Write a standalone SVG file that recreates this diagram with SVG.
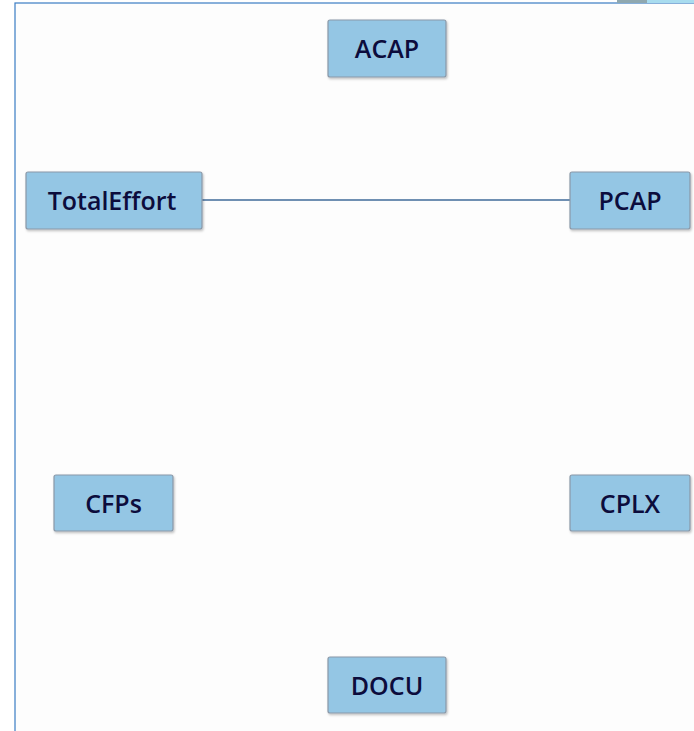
<svg xmlns="http://www.w3.org/2000/svg" width="694" height="731" viewBox="0 0 694 731">
  <style>
    .node rect { fill: #94c6e4; stroke: #8a98a8; stroke-width: 1.2; }
    .node text { font-family: "Open Sans", "DejaVu Sans", sans-serif; font-weight: 600; font-size: 25px; fill: #0c0c3c; text-anchor: middle; }
    .edge { stroke: #3f6a98; stroke-width: 1.4; fill: none; }
  </style>
  <defs>
    <filter id="shadow" x="-10%" y="-10%" width="130%" height="140%">
      <feDropShadow dx="1" dy="1.5" stdDeviation="0.8" flood-color="#000" flood-opacity="0.25"/>
    </filter>
  </defs>
  <!-- canvas -->
  <rect x="0" y="0" width="694" height="731" fill="#ffffff"/>
  <rect x="15" y="3" width="690" height="740" fill="#fdfdfd" stroke="#3a7cc4" stroke-width="1.2"/>
  <!-- toolbar fragments at top right -->
  <rect x="617" y="0" width="30" height="3" fill="#8fa8b0"/>
  <rect x="647" y="0" width="47" height="3" fill="#a8dcef"/>

  <g id="connectors">
    <line class="edge" x1="202" y1="200" x2="570" y2="200"/>
  </g>

  <g id="ACAP" class="node">
    <rect x="328" y="20" width="118" height="57" rx="2" filter="url(#shadow)"/>
    <text x="387" y="58">ACAP</text>
  </g>
  <g id="TotalEffort" class="node">
    <rect x="26" y="172" width="176" height="57" rx="2" filter="url(#shadow)"/>
    <text x="112" y="210">TotalEffort</text>
  </g>
  <g id="PCAP" class="node">
    <rect x="570" y="172" width="120" height="57" rx="2" filter="url(#shadow)"/>
    <text x="630" y="210">PCAP</text>
  </g>
  <g id="CFPs" class="node">
    <rect x="54" y="475" width="119" height="56" rx="2" filter="url(#shadow)"/>
    <text x="113.5" y="513">CFPs</text>
  </g>
  <g id="CPLX" class="node">
    <rect x="570" y="475" width="120" height="56" rx="2" filter="url(#shadow)"/>
    <text x="630" y="513">CPLX</text>
  </g>
  <g id="DOCU" class="node">
    <rect x="328" y="657" width="118" height="56" rx="2" filter="url(#shadow)"/>
    <text x="387" y="695">DOCU</text>
  </g>
</svg>
